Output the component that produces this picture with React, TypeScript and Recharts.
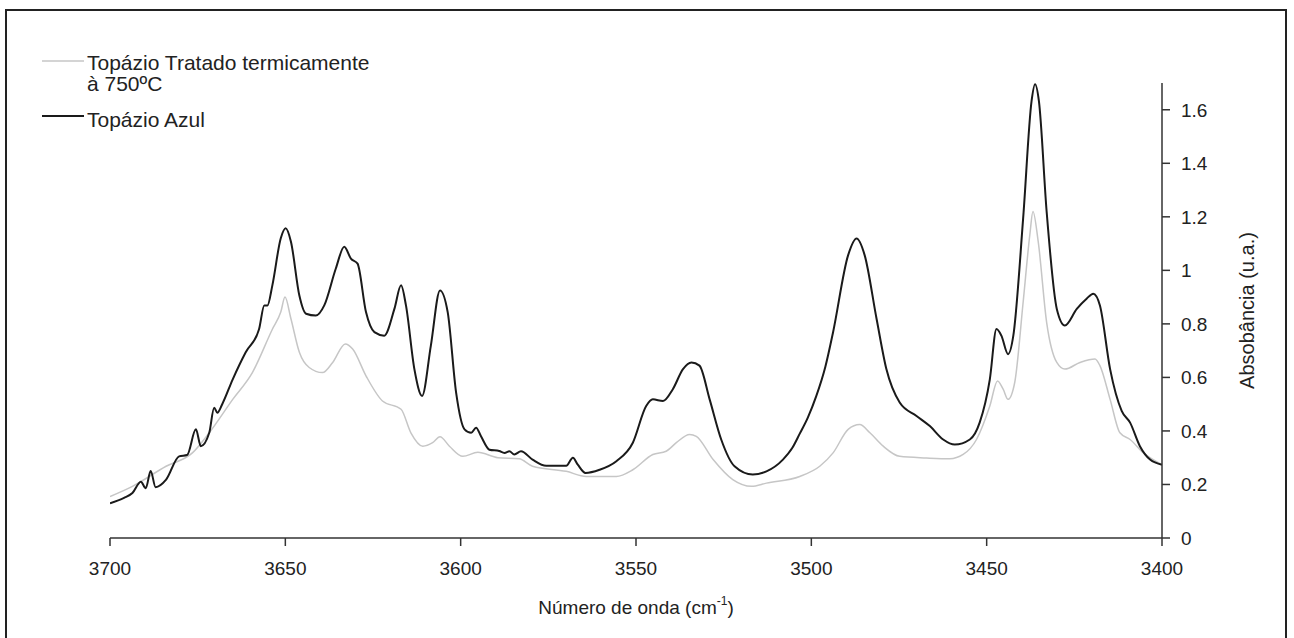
import React from 'react'
import { LineChart, Line, XAxis, YAxis, Legend, Label } from 'recharts'

// wavenumbers (cm-1) and absorbance
const blueWn = [
  3700, 3696, 3693.6, 3691.2, 3689.8, 3688.4, 3687, 3684, 3680.3, 3678, 3675.5, 3674.1, 3671.7, 3670.3, 3669.4,
  3668, 3665, 3661.3, 3657.5, 3656, 3655.1, 3653.7, 3651.3, 3649.9, 3648.4, 3646, 3644.1, 3641.3, 3638.9, 3635.6,
  3633.2, 3631.3, 3629.4, 3627, 3624.6, 3621.8, 3618.9, 3617, 3615.6, 3613.2, 3611, 3608.5, 3605.9, 3603.7, 3601.3,
  3598.9, 3597, 3595.6, 3594.2, 3591.8, 3589, 3587.5, 3586.1, 3584.7, 3582.8, 3579.5, 3575.6, 3569.9, 3568, 3566.6,
  3564.4, 3560.4, 3555.6, 3550.9, 3547.1, 3545.2, 3542.3, 3539.5, 3536.6, 3534.2, 3531.9, 3529, 3525.7, 3521.9,
  3516.7, 3512.8, 3508.1, 3505.5, 3503.3, 3501, 3498.6, 3496, 3493.8, 3489.5, 3487.1, 3484.8, 3481.4, 3478.6,
  3474.8, 3470, 3466.2, 3462.4, 3459.1, 3454.8, 3452, 3449.1, 3447.2, 3445.8, 3443.9, 3442.4, 3439.6, 3437.2,
  3436.2, 3435.1, 3432.9, 3430, 3427.7, 3424.3, 3421.5, 3419.6, 3417.7, 3414.8, 3411.5, 3409.1, 3406.3, 3403.4, 3400,
]
const blueAbs = [
  0.13, 0.15, 0.168, 0.21, 0.186, 0.25, 0.19, 0.218, 0.305, 0.31, 0.406, 0.343, 0.393, 0.487, 0.468,
  0.5, 0.593, 0.694, 0.78, 0.869, 0.869, 0.944, 1.12, 1.157, 1.107, 0.906, 0.838, 0.831, 0.869, 1.007,
  1.088, 1.044, 1.025, 0.844, 0.769, 0.756, 0.856, 0.944, 0.869, 0.631, 0.531, 0.719, 0.925, 0.844, 0.543,
  0.406, 0.393, 0.412, 0.38, 0.33, 0.325, 0.318, 0.324, 0.312, 0.324, 0.293, 0.27, 0.27, 0.3, 0.274,
  0.243, 0.255, 0.287, 0.356, 0.493, 0.518, 0.512, 0.556, 0.631, 0.656, 0.644, 0.518, 0.368, 0.268,
  0.237, 0.249, 0.293, 0.335, 0.39, 0.45, 0.53, 0.64, 0.769, 1.057, 1.119, 1.057, 0.819, 0.631,
  0.506, 0.456, 0.418, 0.368, 0.349, 0.368, 0.431, 0.593, 0.781, 0.756, 0.687, 0.756, 1.194, 1.632,
  1.695, 1.632, 1.22, 0.856, 0.794, 0.856, 0.894, 0.913, 0.869, 0.631, 0.475, 0.431, 0.343, 0.293, 0.274,
]

const heatWn = [
  3700, 3693.6, 3684, 3676.5, 3671.7, 3665, 3659.4, 3653.7, 3651.3, 3650.1, 3648.4, 3646, 3643.2, 3639.4, 3636.5,
  3632.9, 3630.8, 3627, 3622.3, 3617, 3614.2, 3610.8, 3608, 3605.9, 3603.2, 3599.4, 3595.1, 3589.4, 3583.3, 3579.5,
  3569.9, 3564.2, 3555.6, 3550.9, 3545.2, 3541.4, 3538.5, 3534.7, 3532.8, 3528, 3522.4, 3517.1, 3512.8, 3503.3,
  3497.6, 3493.8, 3489.5, 3486.2, 3483.3, 3479.5, 3474.8, 3467.2, 3460.5, 3456.7, 3452.9, 3449.1, 3446.9, 3445.3,
  3443.9, 3442, 3439.6, 3437.7, 3436.8, 3435.3, 3432.9, 3430, 3427.7, 3423.4, 3419.1, 3417.7, 3414.8, 3412, 3409.1,
  3405.3, 3400,
]
const heatAbs = [
  0.155, 0.193, 0.268, 0.318, 0.393, 0.518, 0.618, 0.78, 0.844, 0.9, 0.819, 0.694, 0.637, 0.618, 0.656,
  0.725, 0.706, 0.606, 0.512, 0.481, 0.393, 0.343, 0.356, 0.378, 0.343, 0.305, 0.32, 0.3, 0.296, 0.268,
  0.249, 0.23, 0.23, 0.255, 0.312, 0.324, 0.356, 0.387, 0.38, 0.293, 0.218, 0.193, 0.205, 0.23,
  0.268, 0.318, 0.406, 0.424, 0.393, 0.343, 0.305, 0.299, 0.296, 0.312, 0.368, 0.493, 0.587, 0.556,
  0.518, 0.581, 0.881, 1.132, 1.22, 1.107, 0.806, 0.656, 0.631, 0.656, 0.669, 0.644, 0.518, 0.393, 0.368,
  0.318, 0.274,
]

const xTicks = [3700, 3650, 3600, 3550, 3500, 3450, 3400]
const yTicks = [0, 0.2, 0.4, 0.6, 0.8, 1, 1.2, 1.4, 1.6]

const heatName = 'Topázio Tratado termicamente\nà 750ºC'
const blueName = 'Topázio Azul'
const legendOrder = [heatName, blueName]

const FONT = '"Liberation Sans", Arial, sans-serif'
const AXIS = '#333'

const blueData = blueWn.map((wn, i) => ({ wn, abs: blueAbs[i] }))
const heatData = heatWn.map((wn, i) => ({ wn, abs: heatAbs[i] }))

const renderLegend = (props: any) => {
  const items = [...(props.payload || [])].sort(
    (a: any, b: any) => legendOrder.indexOf(a.value) - legendOrder.indexOf(b.value)
  )
  // sample line y, first text baseline
  const rows = [
    { ly: 61, by: 70 },
    { ly: 116, by: 127 },
  ]
  return (
    <svg width={420} height={140} style={{ display: 'block', overflow: 'visible' }}>
      {items.map((it: any, i: number) => {
        const r = rows[i] || rows[0]
        const lines = String(it.value).split('\n')
        return (
          <g key={i}>
            <line x1={42} x2={84} y1={r.ly} y2={r.ly} stroke={it.color} strokeWidth={i === 0 ? 1.5 : 2} />
            {lines.map((t, j) => (
              <text key={j} x={87} y={r.by + j * 21} fontSize={21} fontFamily={FONT} fill="#222">
                {t}
              </text>
            ))}
          </g>
        )
      })}
    </svg>
  )
}

const XTitle = (props: any) => {
  const vb = props.viewBox || { x: 0, width: 0 }
  return (
    <text x={vb.x + vb.width / 2} y={614} textAnchor="middle" fontSize={19} fontFamily={FONT} fill="#222">
      Número de onda (cm
      <tspan fontSize={12} dy={-9}>-1</tspan>
      <tspan dy={9}>)</tspan>
    </text>
  )
}

const YTitle = (props: any) => {
  const vb = props.viewBox || { y: 0, height: 0 }
  const cy = vb.y + vb.height / 2
  return (
    <text x={1254} y={cy} transform={`rotate(-90 1254 ${cy})`} textAnchor="middle" fontSize={20} fontFamily={FONT} fill="#222">
      Absobância (u.a.)
    </text>
  )
}

export default function App() {
  return (
    <div style={{ position: 'absolute', left: 0, top: 0, width: 1294, height: 638, overflow: 'hidden', background: '#fff' }}>
      <div
        style={{
          position: 'absolute', left: 5, top: 9, width: 1282, height: 660,
          border: '2px solid #222', boxSizing: 'border-box', pointerEvents: 'none',
        }}
      />
      <LineChart width={1294} height={638} margin={{ top: 83, right: 0, bottom: 0, left: 110 }}>
        <XAxis
          type="number" dataKey="wn" domain={[3400, 3700]} reversed ticks={xTicks} height={100}
          tick={{ fontSize: 19, fill: '#222', fontFamily: FONT }} tickSize={8} tickMargin={16}
          axisLine={{ stroke: AXIS, strokeWidth: 1.5 }} tickLine={{ stroke: AXIS, strokeWidth: 1.5 }}
          allowDataOverflow
        >
          <Label content={XTitle} />
        </XAxis>
        <YAxis
          orientation="right" type="number" domain={[0, 1.7]} ticks={yTicks} width={132}
          tick={{ fontSize: 19, fill: '#222', fontFamily: FONT }} tickSize={8} tickMargin={11}
          axisLine={{ stroke: AXIS, strokeWidth: 1.5 }} tickLine={{ stroke: AXIS, strokeWidth: 1.5 }}
          allowDataOverflow
        >
          <Label content={YTitle} />
        </YAxis>
        <Legend
          content={renderLegend} layout="horizontal" verticalAlign="middle" align="center"
          wrapperStyle={{ left: 0, top: 0, width: 420, height: 140 }}
        />
        <Line
          data={heatData} dataKey="abs" name={heatName} type="monotone" stroke="#c6c6c6"
          strokeWidth={1.5} dot={false} activeDot={false} isAnimationActive={false}
        />
        <Line
          data={blueData} dataKey="abs" name={blueName} type="monotone" stroke="#1a1a1a"
          strokeWidth={2} dot={false} activeDot={false} isAnimationActive={false}
        />
      </LineChart>
    </div>
  )
}
